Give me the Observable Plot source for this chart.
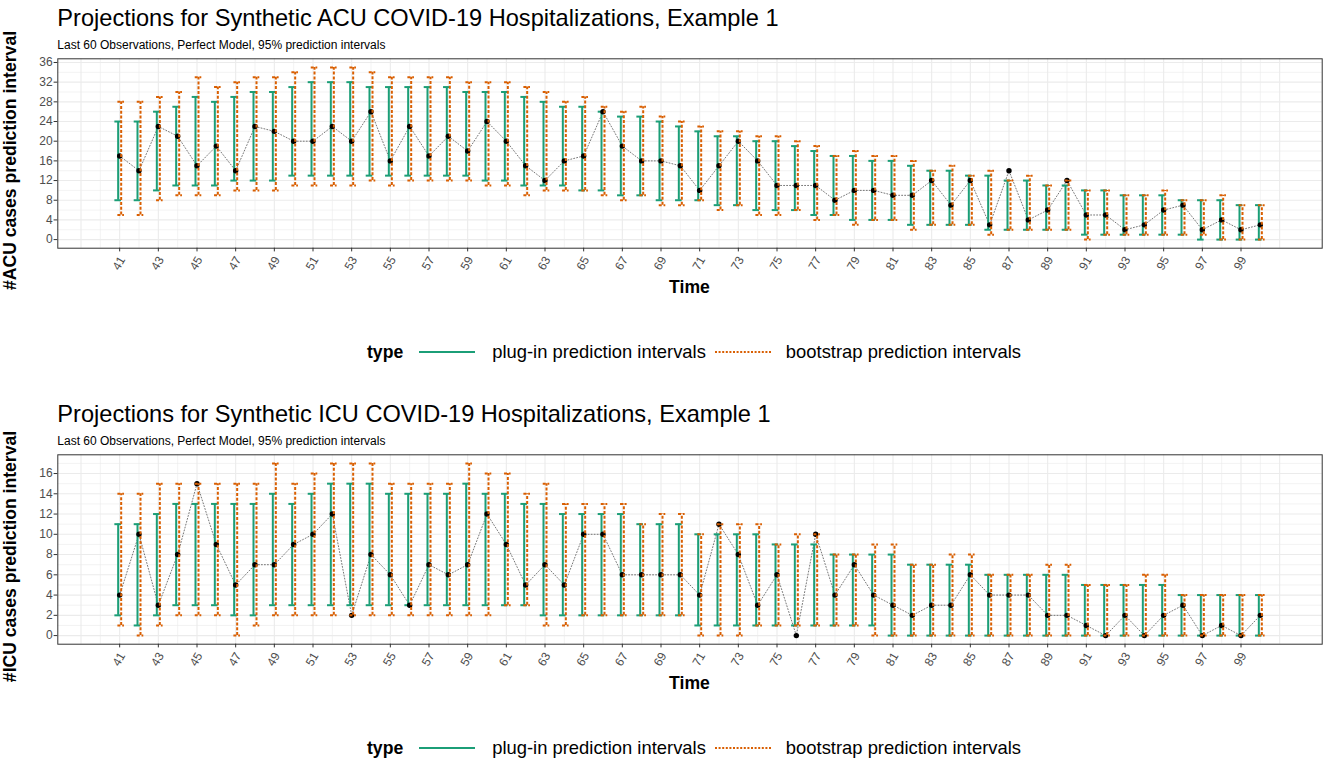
<!DOCTYPE html>
<html>
<head>
<meta charset="utf-8">
<script src="https://cdn.jsdelivr.net/npm/d3@7"></script>
<script src="https://cdn.jsdelivr.net/npm/@observablehq/plot@0.6"></script>
<style>
  html, body { margin: 0; padding: 0; background: #fff; overflow: hidden; }
  body { width: 1326px; height: 763px; font-family: "Liberation Sans", Arial, sans-serif; }
  .block { position: relative; width: 1326px; height: 396px; }
  .block svg { position: absolute; left: 0; top: 0; }
  .txt { position: absolute; line-height: 1; white-space: nowrap; color: #000; }
  .title { left: 57.3px; font-size: 23.6px; }
  .subtitle { left: 57.3px; font-size: 12px; }
  .xlab { left: 57.3px; width: 1264.4px; text-align: center; font-size: 17.6px; font-weight: bold; }
  .ylab { left: 0; top: 0; font-size: 17.6px; font-weight: bold; transform-origin: 0 0; }
  .legend { position: absolute; left: 367px; display: flex; align-items: center; height: 20px; font-size: 18.4px; white-space: nowrap; }
  .legend b { font-weight: bold; font-size: 17.6px; margin-right: 16px; }
  .legend svg { position: static; }
</style>
</head>
<body>
<div id="root"></div>
<script>
// Time points (last 60 observations)
const time = [41,42,43,44,45,46,47,48,49,50,51,52,53,54,55,56,57,58,59,60,
              61,62,63,64,65,66,67,68,69,70,71,72,73,74,75,76,77,78,79,80,
              81,82,83,84,85,86,87,88,89,90,91,92,93,94,95,96,97,98,99,100];
const xTickLabels = [41,43,45,47,49,51,53,55,57,59,61,63,65,67,69,71,73,75,77,79,81,83,85,87,89,91,93,95,97,99];

// ACU hospitalizations
const acuObserved = [17,14,23,21,15,19,14,23,22,20, 20,23,20,26,16,23,17,21,18,24,
                     20,15,12,16,17,26,19,16,16,15, 10,15,20,16,11,11,11,8,10,10,
                     9,9,12,7,12,3,14,4,6,12, 5,5,2,3,6,7,2,4,2,3];
const acuPlugLower = [8,8,10,11,11,11,12,12,12,13, 13,13,13,13,13,13,13,13,13,12,
                      12,11,11,11,10,10,9,9,8,8, 8,7,7,6,6,6,5,5,4,4,
                      4,3,3,3,3,2,2,2,2,2, 1,1,1,1,1,1,0,0,0,0];
const acuPlugUpper = [24,24,26,27,29,28,29,30,30,31, 32,32,32,31,31,31,31,31,30,30,
                      30,29,28,27,27,26,25,25,24,23, 22,21,21,20,20,19,18,17,17,16,
                      16,15,14,14,13,13,12,12,11,11, 10,10,9,9,9,8,8,8,7,7];
const acuBootLower = [5,5,8,9,9,9,10,10,10,11, 11,11,11,12,11,12,12,12,12,11,
                      11,9,10,10,10,9,8,9,7,7, 8,6,7,5,5,6,4,5,3,4,
                      4,2,3,3,3,1,2,2,2,2, 0,1,1,1,1,1,1,0,0,0];
const acuBootUpper = [28,28,29,30,33,31,32,33,33,34, 35,35,35,34,33,33,33,33,32,32,
                      32,31,30,28,29,27,26,27,25,24, 23,22,22,21,21,20,19,17,18,17,
                      17,16,14,15,13,14,12,13,11,12, 10,10,9,9,10,8,8,9,7,7];
const acuYTicks = [0,4,8,12,16,20,24,28,32,36];

// ICU hospitalizations
const icuObserved = [4,10,3,8,15,9,5,7,7,9, 10,12,2,8,6,3,7,6,7,12,
                     9,5,7,5,10,10,6,6,6,6, 4,11,8,3,6,0,10,4,7,4,
                     3,2,3,3,6,4,4,4,2,2, 1,0,2,0,2,3,0,1,0,2];
const icuPlugLower = [2,1,2,3,3,3,2,2,3,3, 3,3,3,3,3,3,3,3,3,3,
                      3,3,2,2,2,2,2,2,2,2, 1,1,1,1,1,1,1,1,1,1,
                      0,0,0,0,0,0,0,0,0,0, 0,0,0,0,0,0,0,0,0,0];
const icuPlugUpper = [11,11,12,13,13,13,13,13,14,13, 14,15,15,15,14,14,14,14,15,14,
                      14,13,13,12,12,12,12,11,11,11, 10,10,10,10,9,9,9,8,8,8,
                      8,7,7,7,7,6,6,6,6,6, 5,5,5,5,5,4,4,4,4,4];
const icuBootLower = [1,0,1,2,2,2,0,1,2,2, 2,2,2,2,2,2,2,2,2,2,
                      3,3,1,1,2,2,2,2,2,2, 0,0,0,1,1,1,1,1,1,0,
                      0,0,0,0,0,0,0,0,0,0, 0,0,0,0,0,0,0,0,0,0];
const icuBootUpper = [14,14,15,15,15,15,15,15,17,15, 16,17,17,17,15,15,15,15,17,16,
                      16,14,15,13,13,13,13,11,12,12, 10,11,11,11,9,10,10,8,8,9,
                      9,7,7,8,8,6,6,6,7,7, 5,5,5,6,6,4,4,4,4,4];
const icuYTicks = [0,2,4,6,8,10,12,14,16];

const GREEN = "#1B9E77";
const ORANGE = "#D95F02";
const DODGE = 0.078;   // horizontal offset of the two interval types
const CAP = 0.17;      // half width of the error bar caps
const DASH = "3,1.8";

function errorBars(rows, lo, hi, offset, color, dash) {
  const base = {stroke: color, strokeWidth: 2, strokeDasharray: dash};
  return [
    Plot.ruleX(rows, {...base, x: d => d.t + offset, y1: lo, y2: hi}),
    Plot.ruleY(rows, {...base, y: lo, x1: d => d.t + offset - CAP, x2: d => d.t + offset + CAP}),
    Plot.ruleY(rows, {...base, y: hi, x1: d => d.t + offset - CAP, x2: d => d.t + offset + CAP})
  ];
}

function panel(cfg) {
  const rows = time.map((t, i) => ({
    t,
    obs: cfg.observed[i],
    plugLo: cfg.plugLower[i], plugHi: cfg.plugUpper[i],
    bootLo: cfg.bootLower[i], bootHi: cfg.bootUpper[i]
  }));
  const xGrid = d3.range(39, 102);
  const xMajor = xGrid.filter(v => v % 2 === 1);
  const xMinor = xGrid.filter(v => v % 2 === 0);
  return Plot.plot({
    width: 1326,
    height: 280,
    marginTop: 58.3,
    marginBottom: 32.3,
    marginLeft: 57.3,
    marginRight: 4.3,
    style: {fontFamily: "'Liberation Sans', Arial, sans-serif", fontSize: "12px", background: "transparent", overflow: "visible"},
    x: {domain: [37.8, 103.2]},
    y: {domain: cfg.yDomain},
    marks: [
      Plot.gridX(xMinor, {stroke: "#EBEBEB", strokeOpacity: 1, strokeWidth: 0.6}),
      Plot.gridX(xMajor, {stroke: "#EBEBEB", strokeOpacity: 1, strokeWidth: 1.1}),
      Plot.gridY(cfg.yMinor, {stroke: "#EBEBEB", strokeOpacity: 1, strokeWidth: 0.6}),
      Plot.gridY(cfg.yTicks, {stroke: "#EBEBEB", strokeOpacity: 1, strokeWidth: 1.1}),
      Plot.axisY(cfg.yTicks, {tickSize: 3.7, tickPadding: 1.5, label: null, stroke: "#333333", fill: "#4D4D4D", fontSize: 12}),
      Plot.axisX(xTickLabels, {tickSize: 3.7, tickFormat: () => "", label: null, stroke: "#333333"}),
      Plot.text(xTickLabels, {x: d => d, text: d => String(d), frameAnchor: "bottom", rotate: -60,
                              textAnchor: "middle", dx: 2.6, dy: 17, fill: "#4D4D4D", fontSize: 12}),
      Plot.line(rows, {x: "t", y: "obs", stroke: "#555555", strokeWidth: 0.8, strokeDasharray: "1,2"}),
      ...errorBars(rows, "plugLo", "plugHi", -DODGE, GREEN, null),
      Plot.dot(rows, {x: "t", y: "obs", r: 2.7, fill: "black", stroke: null}),
      ...errorBars(rows, "bootLo", "bootHi", DODGE, ORANGE, DASH),
      Plot.frame({stroke: "#333333", strokeWidth: 1})
    ]
  });
}

function legendKey(color, dash) {
  const ns = "http://www.w3.org/2000/svg";
  const svg = document.createElementNS(ns, "svg");
  svg.setAttribute("width", 56);
  svg.setAttribute("height", 6);
  const line = document.createElementNS(ns, "line");
  line.setAttribute("x1", 0); line.setAttribute("x2", 56);
  line.setAttribute("y1", 3); line.setAttribute("y2", 3);
  line.setAttribute("stroke", color);
  line.setAttribute("stroke-width", 2);
  if (dash) line.setAttribute("stroke-dasharray", "2,1.6");
  svg.appendChild(line);
  return svg;
}

function block(cfg, height) {
  const div = document.createElement("div");
  div.className = "block";
  div.style.height = height + "px";
  div.appendChild(panel(cfg));

  const add = (cls, text, css) => {
    const el = document.createElement("div");
    el.className = "txt " + cls;
    el.textContent = text;
    Object.assign(el.style, css || {});
    div.appendChild(el);
    return el;
  };
  add("title", cfg.title, {top: (27.3 - 0.8465 * 23.6) + "px"});
  add("subtitle", "Last 60 Observations, Perfect Model, 95% prediction intervals", {top: (49 - 0.8465 * 12) + "px"});
  add("xlab", "Time", {top: (293.5 - 0.8465 * 17.6) + "px"});
  add("ylab", cfg.yLabel, {transform: `translate(${17 - 0.8465 * 17.6}px, 160.5px) rotate(-90deg) translateX(-50%)`});

  const leg = document.createElement("div");
  leg.className = "legend";
  leg.style.top = (352 - 10) + "px";
  const title = document.createElement("b");
  title.textContent = "type";
  leg.appendChild(title);
  leg.appendChild(legendKey(GREEN, false));
  const s1 = document.createElement("span");
  s1.textContent = "plug-in prediction intervals";
  s1.style.margin = "0 9px 0 17px";
  leg.appendChild(s1);
  leg.appendChild(legendKey(ORANGE, true));
  const s2 = document.createElement("span");
  s2.textContent = "bootstrap prediction intervals";
  s2.style.marginLeft = "15px";
  leg.appendChild(s2);
  div.appendChild(leg);
  return div;
}

const root = document.getElementById("root");
root.appendChild(block({
  title: "Projections for Synthetic ACU COVID-19 Hospitalizations, Example 1",
  yLabel: "#ACU cases prediction interval",
  observed: acuObserved, plugLower: acuPlugLower, plugUpper: acuPlugUpper,
  bootLower: acuBootLower, bootUpper: acuBootUpper,
  yDomain: [-1.75, 36.75], yTicks: acuYTicks, yMinor: [2,6,10,14,18,22,26,30,34]
}, 396));
root.appendChild(block({
  title: "Projections for Synthetic ICU COVID-19 Hospitalizations, Example 1",
  yLabel: "#ICU cases prediction interval",
  observed: icuObserved, plugLower: icuPlugLower, plugUpper: icuPlugUpper,
  bootLower: icuBootLower, bootUpper: icuBootUpper,
  yDomain: [-0.85, 17.85], yTicks: icuYTicks, yMinor: [1,3,5,7,9,11,13,15,17]
}, 367));
</script>
</body>
</html>
